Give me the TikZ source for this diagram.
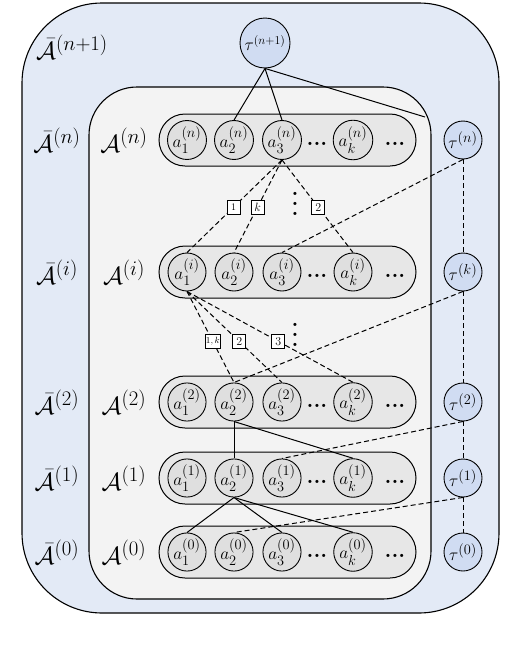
\documentclass[tikz,border=0pt]{standalone}
\usepackage{amsmath}
\usetikzlibrary{calc}
\definecolor{outerblue}{RGB}{227,234,246}
\definecolor{innergray}{RGB}{243,243,243}
\definecolor{pillgray}{RGB}{231,231,231}
\definecolor{circgray}{RGB}{223,223,223}
\definecolor{taublue}{RGB}{208,220,242}
\tikzset{
  outerbox/.style={draw, line width=1.1pt, fill=outerblue, minimum width=477pt, minimum height=610pt, rounded corners=80pt, inner sep=0},
  innerbox/.style={draw, line width=1.1pt, fill=innergray, minimum width=342pt, minimum height=512pt, rounded corners=48pt, inner sep=0},
  pill/.style={draw, line width=1pt, fill=pillgray, minimum width=257pt, minimum height=52pt, rounded corners=26pt, inner sep=0},
  acirc/.style={circle, draw, line width=0.9pt, fill=circgray, minimum size=38pt, inner sep=0, font=\fontsize{19}{19}\selectfont},
  tcirc/.style={circle, draw, line width=0.9pt, fill=taublue, minimum size=38pt, inner sep=0, font=\fontsize{19}{19}\selectfont},
  lbl/.style={font=\fontsize{28}{30}\selectfont, inner sep=0},
  tagbox/.style={solid, draw, fill=white, line width=0.8pt, inner sep=1pt, minimum height=14pt, minimum width=13pt, font=\fontsize{12}{12}\selectfont},
  dsh/.style={dash pattern=on 5pt off 3pt, line width=1pt},
  sld/.style={line width=1pt},
  hdots/.style={font=\fontsize{22}{22}\selectfont\bfseries, inner sep=0},
  vdotsn/.style={align=center, font=\fontsize{22}{10}\selectfont\bfseries, inner sep=0}
}
\begin{document}
\begin{tikzpicture}[x=1pt,y=-1pt]
\useasboundingbox (0,0) rectangle (530,648);
\node[outerbox] (outer) at (260.5,308) {};
\node[innerbox] (inner) at (260,343) {};
\node[lbl] (Lnp) at (72,47) {$\bar{\mathcal{A}}^{(n+1)}$};
\node[tcirc, minimum size=50pt, inner sep=0pt, font=\fontsize{17}{17}\selectfont] (tnp) at (265,43) {$\tau^{(n+1)}$};
\coordinate (tcorner) at (425,117);
\foreach \r/\y in {n/140,i/272,2/402,1/478,0/552}{
  \node[lbl] (Lb\r) at (57,\y) {$\bar{\mathcal{A}}^{(\r)}$};
  \node[lbl] (La\r) at (124,\y) {$\mathcal{A}^{(\r)}$};
  \node[pill] (R\r) at (287.5,\y) {};
  \node[acirc] (a1\r) at (187,\y) {$a_1^{(\r)}$};
  \node[acirc] (a2\r) at (234,\y) {$a_2^{(\r)}$};
  \node[acirc] (a3\r) at (282,\y) {$a_3^{(\r)}$};
  \node[acirc] (ak\r) at (353,\y) {$a_k^{(\r)}$};
  \node[hdots] (d1\r) at (317,\y+4) {...};
  \node[hdots] (d2\r) at (395,\y+4) {...};
}
\foreach \r/\y/\s in {n/140/n,k/272/k,2/402/2,1/478/1,0/552/0}{
  \node[tcirc] (t\r) at (463,\y) {$\tau^{(\s)}$};
}
% solid lines from tau^(n+1)
\draw[sld] (tnp.south) -- (a2n.north);
\draw[sld] (tnp.south) -- (a3n.north);
\draw[sld] (tnp.south) -- (tcorner);
% dashed from a3^(n)
\draw[dsh] (a3n.south) -- node[tagbox, pos=0.51, font=\fontsize{10}{10}\selectfont] (g1) {1} (a1i.north);
\draw[dsh] (a3n.south) -- node[tagbox, pos=0.51] (gk) {$k$} (a2i.north);
\draw[dsh] (a3n.south) -- node[tagbox, pos=0.51] (g2) {2} (aki.north);
\node[vdotsn] (vd1) at (295,204) {.\\.\\.};
% dashed from a1^(i)
\draw[dsh] (a1i.south) -- node[tagbox, pos=0.55, font=\fontsize{9}{9}\selectfont] (h1) {$1,k$} (a22.north);
\draw[dsh] (a1i.south) -- node[tagbox, pos=0.55] (h2) {2} (a32.north);
\draw[dsh] (a1i.south) -- node[tagbox, pos=0.55] (h3) {3} (ak2.north);
\node[vdotsn] (vd2) at (295,335) {.\\.\\.};
% tau chain
\draw[dsh] (tn.south) -- (tk.north);
\draw[dsh] (tk.south) -- (t2.north);
\draw[dsh] (t2.south) -- (t1.north);
\draw[dsh] (t1.south) -- (t0.north);
% tau to a
\draw[dsh] (tn.south) -- (a3i.north);
\draw[dsh] (tk.south) -- (a22.north);
\draw[dsh] (t2.south) -- (a31.north);
\draw[dsh] (t1.south) -- (a20.north);
% solid lower
\draw[sld] (a22.south) -- (a21.north);
\draw[sld] (a22.south) -- (ak1.north);
\draw[sld] (a21.south) -- (a10.north);
\draw[sld] (a21.south) -- (a30.north);
\draw[sld] (a21.south) -- (ak0.north);
\end{tikzpicture}
\end{document}
